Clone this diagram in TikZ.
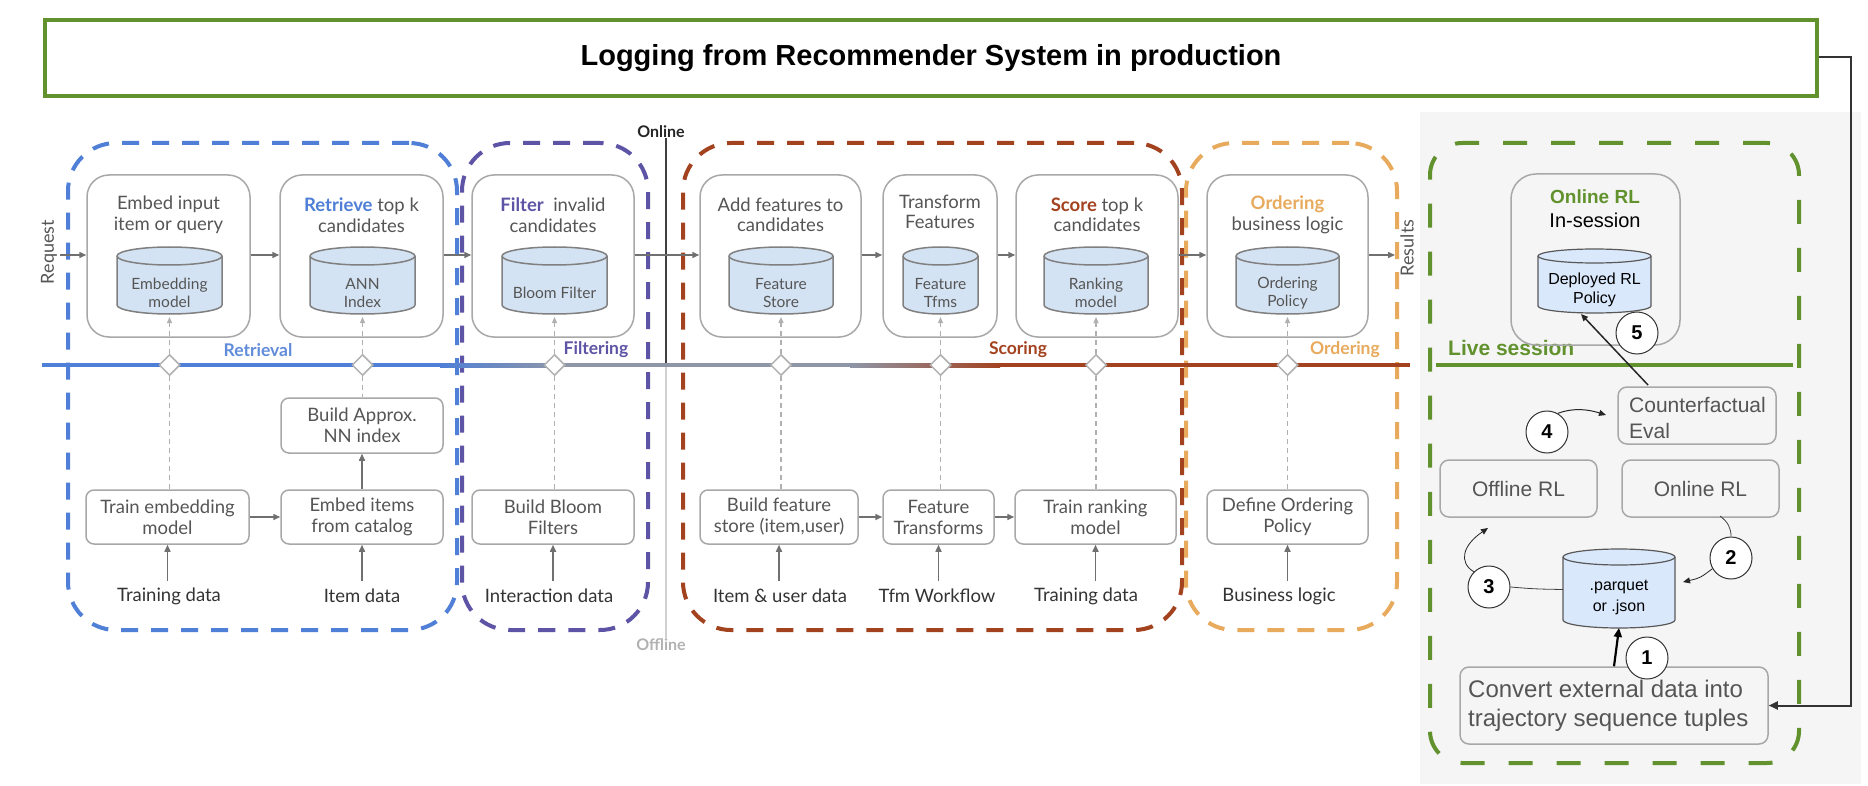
\documentclass[tikz,border=0pt]{standalone}
\usepackage{fontspec}
\setmainfont{Lato}
\newfontfamily\arialf{Liberation Sans}
\usetikzlibrary{arrows.meta,shapes.geometric,calc}
\definecolor{cblue}{HTML}{4F7FD6}
\definecolor{cpurple}{HTML}{5E54A6}
\definecolor{cbrown}{HTML}{A3421F}
\definecolor{corange}{HTML}{E8AA5C}
\definecolor{cgreen}{HTML}{62922E}
\definecolor{hgray}{HTML}{8E96A8}
\definecolor{boxgray}{HTML}{A8A8A8}
\definecolor{txtgray}{HTML}{555555}
\definecolor{lblgray}{HTML}{333333}
\definecolor{arrgray}{HTML}{707070}
\definecolor{dashgray}{HTML}{B0B0B0}
\definecolor{cylfill}{HTML}{D4E3F3}
\definecolor{cylline}{HTML}{808080}
\definecolor{cylfillR}{HTML}{DAE8FC}
\definecolor{bgfill}{HTML}{F5F5F5}
\newcommand\cyl[7]{%
  \path[#7] ({#2-#3},#4) -- ({#2-#3},#5) arc[start angle=180,end angle=0,x radius=#3,y radius=#6]
     -- ({#2+#3},#4) arc[start angle=0,end angle=-180,x radius=#3,y radius=#6] -- cycle;
  \path[#7,fill=none] ({#2-#3},#4) arc[start angle=180,end angle=0,x radius=#3,y radius=#6];
  \coordinate (#1-b) at (#2,{#5+#6});
  \coordinate (#1-w) at ({#2-#3},{(#4+#5)/2});
}
\begin{document}
\begin{tikzpicture}[x=1pt,y=-1pt,
  grpbox/.style={draw, line width=4pt, dash pattern=on 17pt off 13pt, rounded corners=48pt, inner sep=0},
  topbox/.style={draw=boxgray, line width=1.5pt, rounded corners=22pt, fill=white, inner sep=0},
  botbox/.style={draw=boxgray, line width=1.5pt, rounded corners=8pt, fill=white, align=center, inner sep=0,
     font=\fontsize{18.5}{21}\selectfont, text=txtgray},
  toptxt/.style={align=center, inner sep=0, font=\fontsize{18.5}{20.5}\selectfont, text=txtgray},
  cyltxt/.style={align=center, inner sep=0, font=\fontsize{15.5}{17.5}\selectfont, text=txtgray},
  lbl/.style={inner sep=0, font=\fontsize{18.5}{21}\selectfont, text=lblgray},
  grplbl/.style={inner sep=0, font=\bfseries\fontsize{17.5}{20}\selectfont},
  flow/.style={draw=arrgray, line width=1.5pt, -{Triangle[length=7pt,width=6pt]}},
  dashc/.style={draw=dashgray, line width=1.2pt, dash pattern=on 5pt off 4pt},
  dasharr/.style={dashc, -{Triangle[length=6pt,width=5pt]}},
  diam/.style={diamond, draw=dashgray, fill=white, line width=1.5pt, minimum size=21pt, inner sep=0},
  cylL/.style={fill=cylfill, draw=cylline, line width=1.5pt},
  cylR/.style={fill=cylfillR, draw=black!65, line width=1.2pt},
  rlbox/.style={draw=boxgray, line width=1.5pt, rounded corners=9pt, inner sep=0},
  rltxt/.style={inner sep=0, font=\arialf\fontsize{21}{26}\selectfont, text=txtgray},
  numc/.style={circle, draw=black!80, fill=white, line width=1pt, minimum size=42pt, inner sep=0,
     font=\arialf\bfseries\fontsize{20}{24}\selectfont},
  blk/.style={draw=black!85, line width=1pt, -{Triangle[length=7pt,width=6pt]}}
]
\useasboundingbox (0,0) rectangle (1868,786);
\fill[white] (0,0) rectangle (1868,786);

% ---------- title ----------
\node[draw=cgreen, line width=4pt, minimum width=1772pt, minimum height=76pt, inner sep=0,
      font=\arialf\bfseries\fontsize{29}{33}\selectfont] (title) at (931,58)
      {Logging from Recommender System in production};

% ---------- right grey panel ----------
\fill[bgfill] (1420,112) rectangle (1861,784);

% ---------- group boxes ----------
\node[grpbox, draw=cblue, minimum width=389pt, minimum height=487pt] (gRet) at (262.5,386.5) {};
\node[grpbox, draw=cpurple, minimum width=186pt, minimum height=487pt] (gFil) at (555,386.5) {};
\node[grpbox, draw=cbrown, minimum width=499pt, minimum height=487pt] (gSco) at (932.5,386.5) {};
\node[grpbox, draw=corange, minimum width=211pt, minimum height=487pt] (gOrd) at (1291.5,386.5) {};

% ---------- online / offline divider ----------
\node[inner sep=0, font=\bfseries\fontsize{16}{18}\selectfont, text=black!85] (onl) at (661,132) {Online};
\node[inner sep=0, font=\bfseries\fontsize{16}{18}\selectfont, text=black!30] (offl) at (661,645) {Offline};
\coordinate (onmid) at (666,365);
\draw[line width=2.5pt, black!75] (onl.south -| onmid) -- (onmid);
\draw[line width=2.5pt, black!18] (onmid) -- (offl.north -| onmid);

% ---------- horizontal online/offline line ----------
\fill[cblue] (42,363) rectangle (440,367);
\shade[left color=cblue,right color=hgray] (440,363) rectangle (560,367);
\fill[hgray] (560,363) rectangle (850,367);
\shade[left color=hgray,right color=cbrown] (850,363) rectangle (1000,367);
\fill[cbrown] (1000,363) rectangle (1410,367);

% ---------- group labels ----------
\node[grplbl, text=cblue!90] (lRet) at (258,350) {Retrieval};
\node[grplbl, text=cpurple] (lFil) at (596,350) {Filtering};
\node[grplbl, text=cbrown] (lSco) at (1018,350) {Scoring};
\node[grplbl, text=corange] (lOrd) at (1345,350) {Ordering};

% ---------- top (online) boxes ----------
\node[topbox, minimum width=163pt, minimum height=162pt] (bEmb) at (168.5,256) {};
\node[topbox, minimum width=163pt, minimum height=162pt] (bRet) at (361.5,256) {};
\node[topbox, minimum width=162pt, minimum height=162pt] (bFil) at (553,256) {};
\node[topbox, minimum width=161pt, minimum height=162pt] (bAdd) at (780.5,256) {};
\node[topbox, minimum width=114pt, minimum height=162pt] (bTra) at (940,256) {};
\node[topbox, minimum width=162pt, minimum height=162pt] (bSco) at (1097,256) {};
\node[topbox, minimum width=161pt, minimum height=162pt] (bOrd) at (1287.5,256) {};

\node[toptxt] (tEmb) at (168.5,215) {Embed input\\item or query};
\node[toptxt] (tRet) at (361.5,215) {{\color{cblue}\bfseries Retrieve} top k\\candidates};
\node[toptxt] (tFil) at (553,215) {{\color{cpurple}\bfseries Filter}\ \ invalid\\candidates};
\node[toptxt] (tAdd) at (780.5,215) {Add features to\\candidates};
\node[toptxt] (tTra) at (940,212) {Transform\\Features};
\node[toptxt] (tSco) at (1097,215) {{\color{cbrown}\bfseries Score} top k\\candidates};
\node[toptxt] (tOrd) at (1287.5,215) {{\color{corange}\bfseries Ordering}\\business logic};

% cylinders
\cyl{cEmb}{169.5}{52.5}{256}{305}{9}{cylL}
\cyl{cRet}{362.5}{52.5}{256}{305}{9}{cylL}
\cyl{cFil}{554.5}{52.5}{256}{305}{9}{cylL}
\cyl{cAdd}{781}{52}{256}{305}{9}{cylL}
\cyl{cTra}{940.5}{37.5}{256}{305}{9}{cylL}
\cyl{cSco}{1096}{52}{256}{305}{9}{cylL}
\cyl{cOrd}{1287.5}{51.5}{256}{305}{9}{cylL}
\node[cyltxt] (xEmb) at (169.5,293) {Embedding\\model};
\node[cyltxt] (xRet) at (362.5,293) {ANN\\Index};
\node[cyltxt] (xFil) at (554.5,293) {Bloom Filter};
\node[cyltxt] (xAdd) at (781,293) {Feature\\Store};
\node[cyltxt] (xTra) at (940.5,293) {Feature\\Tfms};
\node[cyltxt] (xSco) at (1096,293) {Ranking\\model};
\node[cyltxt] (xOrd) at (1287.5,293) {Ordering\\Policy};

% request / results
\node[inner sep=0, rotate=90, font=\fontsize{18}{20}\selectfont, text=txtgray] (req) at (49,252) {Request};
\node[inner sep=0, rotate=90, font=\fontsize{18}{20}\selectfont, text=txtgray] (res) at (1407,248) {Results};
\coordinate (reqe) at (60,255);
\coordinate (rese) at (1395,255);

% top-row flow
\draw[flow] (reqe) -- (bEmb.west |- reqe);
\draw[flow] (bEmb.east |- reqe) -- (bRet.west |- reqe);
\draw[flow] (bRet.east |- reqe) -- (bFil.west |- reqe);
\draw[flow] (bFil.east |- reqe) -- (bAdd.west |- reqe);
\draw[flow] (bAdd.east |- reqe) -- (bTra.west |- reqe);
\draw[flow] (bTra.east |- reqe) -- (bSco.west |- reqe);
\draw[flow] (bSco.east |- reqe) -- (bOrd.west |- reqe);
\draw[flow] (bOrd.east |- reqe) -- (rese);

% ---------- offline boxes ----------
\node[botbox, minimum width=163pt, minimum height=54pt] (oTrn) at (167.5,517) {Train embedding\\model};
\node[botbox, minimum width=162pt, minimum height=54pt] (oEmb) at (362,517) {Embed items\\from catalog};
\node[botbox, minimum width=162pt, minimum height=55pt] (oAnn) at (362,425.5) {Build Approx.\\NN index};
\node[botbox, minimum width=162pt, minimum height=54pt] (oBlo) at (553,517) {Build Bloom\\Filters};
\node[botbox, minimum width=158pt, minimum height=54pt] (oFea) at (779,517) {Build feature\\store (item,user)};
\node[botbox, minimum width=111pt, minimum height=54pt] (oTfm) at (938.5,517) {Feature\\Transforms};
\node[botbox, minimum width=161pt, minimum height=54pt] (oRnk) at (1095.5,517) {Train ranking\\model};
\node[botbox, minimum width=161pt, minimum height=54pt] (oOrd) at (1287.5,517) {Define Ordering\\Policy};

\draw[flow] (oTrn) -- (oEmb);
\draw[flow] (oEmb) -- (oAnn);
\draw[flow] (oFea) -- (oTfm);
\draw[flow] (oTfm) -- (oRnk);

% data labels
\node[lbl] (dTrn) at (169,596) {Training data};
\node[lbl] (dItm) at (362,596) {Item data};
\node[lbl] (dInt) at (549,596) {Interaction data};
\node[lbl] (dIu) at (780,596) {Item \& user data};
\node[lbl] (dTfm) at (937,596) {Tfm Workflow};
\node[lbl] (dTr2) at (1086,596) {Training data};
\node[lbl] (dBus) at (1279,596) {Business logic};
\coordinate (dy) at (0,581);
\draw[flow] (oTrn.south |- dy) -- (oTrn.south);
\draw[flow] (oEmb.south |- dy) -- (oEmb.south);
\draw[flow] (oBlo.south |- dy) -- (oBlo.south);
\draw[flow] (oFea.south |- dy) -- (oFea.south);
\draw[flow] (oTfm.south |- dy) -- (oTfm.south);
\draw[flow] (oRnk.south |- dy) -- (oRnk.south);
\draw[flow] (oOrd.south |- dy) -- (oOrd.south);

% diamonds and dashed links
\foreach \n/\x/\c/\b in {1/169.5/cEmb/oTrn, 2/362.5/cRet/oAnn, 3/554.5/cFil/oBlo, 4/781/cAdd/oFea,
                         5/940.5/cTra/oTfm, 6/1096/cSco/oRnk, 7/1287.5/cOrd/oOrd}{
  \node[diam] (dm\n) at (\x,365) {};
  \draw[dasharr] (dm\n.north) -- ($(\c-b)+(0,3)$);
  \draw[dashc] (dm\n.south) -- (dm\n.south |- \b.north);
}

% ---------- right panel ----------
\node[grpbox, draw=cgreen, dash pattern=on 24pt off 24pt, rounded corners=32pt,
      minimum width=369pt, minimum height=620pt] (gRL) at (1614.5,453) {};
\draw[cgreen, line width=3.5pt] (1436,365) -- (1793,365);
\node[anchor=west, inner sep=0, text=cgreen, font=\arialf\bfseries\fontsize{21}{24}\selectfont] (live) at (1448,348) {Live session};

\node[draw=boxgray, line width=1.5pt, rounded corners=25pt, minimum width=169pt, minimum height=171pt, inner sep=0] (bRL) at (1595.5,259.5) {};
\node[align=center, inner sep=0, font=\arialf\fontsize{20}{24}\selectfont] (tRL) at (1595,209)
   {{\color{cgreen}\bfseries\fontsize{19}{24}\selectfont Online RL}\\In-session};
\cyl{cDep}{1594.5}{56.5}{256}{306}{7}{cylR}
\node[align=center, inner sep=0, font=\arialf\fontsize{16}{19}\selectfont] (xDep) at (1594.5,290) {Deployed RL\\Policy};

\node[rlbox, minimum width=158pt, minimum height=57pt] (cf) at (1697,415.5) {};
\node[rltxt, anchor=west, align=left] (cfT) at (1629,418) {Counterfactual\\Eval};
\node[rlbox, minimum width=157pt, minimum height=57pt, rltxt] (off) at (1518.5,488.5) {Offline RL};
\node[rlbox, minimum width=157pt, minimum height=57pt, rltxt] (onr) at (1700.5,488.5) {Online RL};

\cyl{cPq}{1619}{56}{557}{620}{8}{cylR}
\node[align=center, inner sep=0, font=\arialf\fontsize{16}{21}\selectfont] (xPq) at (1619,597) {.parquet\\or .json};

\node[rlbox, minimum width=308pt, minimum height=77pt] (conv) at (1614,705.5) {};
\node[anchor=west, align=left, inner sep=0, text=txtgray, font=\arialf\fontsize{24}{29}\selectfont] (convT) at (1468,705.5)
   {Convert external data into\\trajectory sequence tuples};

% numbered circles
\node[numc] (n5) at (1637,333) {5};
\node[numc] (n4) at (1547,432) {4};
\node[numc] (n2) at (1731,558) {2};
\node[numc] (n3) at (1489,587) {3};
\node[numc] (n1) at (1647,658) {1};

% right connectors
\coordinate (a5) at (1648,385);
\draw[blk, line width=1.5pt] (a5) -- (1581,314);
\draw[blk] (n4.60) .. controls (1575,407) and (1590,410) .. (1606,415);
\draw[draw=black!75, line width=0.8pt] (1720,516) .. controls (1728,522) and (1731,528) .. (n2.north);
\draw[blk, line width=0.8pt] (n2.210) .. controls (1700,578) .. (1683,582);
\draw[draw=black!75, line width=0.8pt] (n3.east) .. controls (1535,589) .. ($(cPq-w)+(0,1)$);
\draw[blk, line width=0.8pt] (n3.135) .. controls (1458,562) and (1463,545) .. (1488,528);
\draw[draw=black, line width=2.2pt, -{Triangle[length=9pt,width=8pt]}] (conv.north -| 1614,0) -- (cPq-b);

\coordinate (k1) at (1851,57);
\draw[draw=black!80, line width=2pt, -{Triangle[length=9pt,width=8pt]}] (title.east |- k1) -- (k1) |- (conv.east);
\end{tikzpicture}
\end{document}
